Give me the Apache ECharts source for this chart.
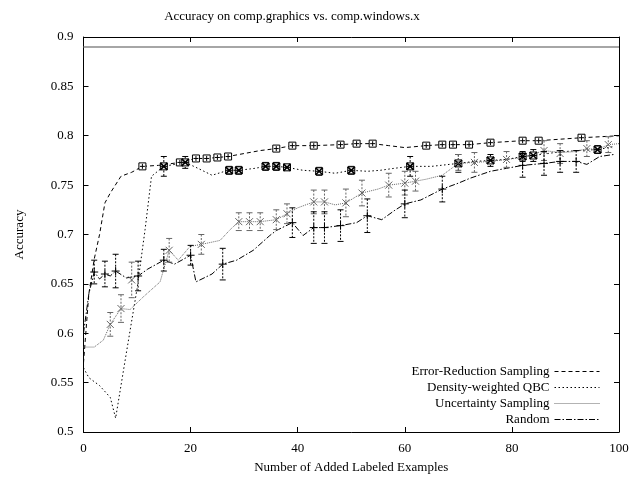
<!DOCTYPE html>
<html><head><meta charset="utf-8">
<script src="https://cdn.jsdelivr.net/npm/echarts@6/dist/echarts.min.js"></script>
<style>html,body{margin:0;padding:0;background:#fff}#c{width:639px;height:480px}</style>
</head><body><div id="c"></div>
<script>
// ---------- data ----------
const chartTitle = 'Accuracy on comp.graphics vs. comp.windows.x';
const xName = 'Number of Added Labeled Examples';
const yName = 'Accuracy';
const seriesNames = ['Error-Reduction Sampling', 'Density-weighted QBC', 'Uncertainty Sampling', 'Random'];
const ceilingAccuracy = 0.892;

const errRedLine = [[0,0.57],[1,0.64],[2,0.675],[3,0.70],[4,0.732],[5,0.742],[7,0.759],[9,0.763],[11,0.769],[14,0.770],[18,0.773],[21,0.777],[23,0.777],[25,0.778],[27,0.779],[30,0.782],[33,0.785],[36,0.787],[39,0.790],[43,0.790],[48,0.791],[51,0.792],[54,0.792],[57,0.790],[60,0.788],[64,0.790],[67,0.791],[69,0.791],[72,0.791],[76,0.793],[82,0.795],[85,0.795],[93,0.798],[100,0.800]];
const errRedPts = [[11,0.769,0],[18,0.773,0],[21,0.777,0],[23,0.777,0],[25,0.778,0],[27,0.779,0],[36,0.787,0],[39,0.790,0],[43,0.790,0],[48,0.791,0],[51,0.792,0],[54,0.792,0],[64,0.790,0],[67,0.791,0],[69,0.791,0],[72,0.791,0],[76,0.793,0],[82,0.795,0],[85,0.795,0],[93,0.798,0]];

const qbcLine = [[0,0.565],[1,0.555],[3,0.547],[5,0.535],[6,0.514],[8,0.58],[10,0.645],[11.5,0.705],[12.7,0.759],[15,0.769],[18,0.772],[19,0.773],[21,0.768],[24,0.760],[27,0.765],[29,0.765],[32,0.767],[34,0.769],[36,0.769],[38,0.768],[41,0.765],[44,0.764],[47,0.762],[50,0.765],[53,0.764],[55.4,0.765],[58,0.767],[61,0.769],[65,0.769],[70,0.772],[73,0.774],[76,0.775],[79,0.776],[82,0.779],[84,0.780],[88,0.783],[92,0.785],[96,0.786],[99,0.789]];
const qbcPts = [[15,0.769,0.010],[19,0.773,0.006],[27.2,0.765,0.004],[29,0.765,0.004],[34,0.769,0.004],[36,0.769,0.004],[38,0.768,0.003],[44,0.764,0.004],[50,0.765,0.004],[61,0.769,0.010],[70,0.772,0.009],[76,0.775,0.006],[82,0.779,0.005],[84,0.780,0.006],[96,0.786,0.004]];

const uncLine = [[0,0.586],[2,0.586],[3.7,0.593],[5,0.609],[7,0.625],[8.7,0.624],[11.2,0.637],[14.3,0.652],[16,0.684],[17.7,0.674],[19.9,0.688],[22,0.690],[25.5,0.694],[27.4,0.705],[29,0.713],[31,0.713],[33,0.713],[36,0.715],[38,0.721],[40,0.727],[43,0.733],[45,0.733],[47,0.730],[49,0.732],[52,0.742],[55,0.746],[57,0.750],[60,0.752],[62,0.754],[64,0.756],[67,0.760],[70,0.772],[73,0.773],[76,0.774],[79,0.776],[82,0.778],[86,0.785],[89,0.783],[92,0.784],[94,0.787],[96,0.786],[98,0.791],[100,0.792]];
const uncPts = [[5,0.609,0.012],[7,0.625,0.014],[9,0.654,0.018],[16,0.684,0.012],[22,0.690,0.010],[29,0.713,0.009],[31,0.713,0.009],[33,0.713,0.009],[36,0.715,0.010],[38,0.721,0.010],[43,0.733,0.012],[45,0.733,0.012],[49,0.732,0.014],[52,0.742,0.013],[57,0.750,0.012],[60,0.752,0.012],[62,0.754,0.010],[70,0.773,0.008],[73,0.773,0.010],[79,0.776,0.008],[86,0.785,0.010],[89,0.782,0.010],[94,0.787,0.008],[98,0.791,0.008]];

const randLine = [[0,0.60],[1,0.64],[2,0.662],[3,0.655],[4,0.660],[5,0.658],[6,0.663],[8,0.656],[10.2,0.658],[12,0.665],[15,0.674],[17,0.670],[20,0.679],[21,0.652],[24,0.660],[26,0.670],[28.6,0.674],[31.7,0.684],[34.8,0.699],[36,0.704],[39,0.712],[41,0.699],[43,0.707],[45,0.707],[48,0.709],[51,0.712],[53,0.719],[55.7,0.715],[58,0.724],[60,0.731],[63,0.735],[67,0.746],[70,0.752],[72.2,0.757],[76,0.764],[79,0.767],[82,0.770],[86,0.772],[89,0.774],[92,0.774],[94,0.771],[96.4,0.779],[99,0.781]];
const randPts = [[2,0.662,0.012],[4,0.660,0.013],[6,0.663,0.017],[10.2,0.658,0.015],[15,0.674,0.011],[20,0.679,0.010],[26,0.670,0.016],[39,0.712,0.015],[43,0.707,0.016],[45,0.707,0.016],[48,0.709,0.016],[53,0.719,0.017],[60,0.731,0.014],[67,0.746,0.013],[82,0.770,0.012],[86,0.772,0.012],[89,0.774,0.011],[92,0.774,0.011]];

// ---------- chart ----------
const FONT = '"Liberation Serif","DejaVu Serif",serif';
const chart = echarts.init(document.getElementById('c'), null, {renderer: 'canvas'});

const styles = [
  {color: '#000', dash: [4, 3], shape: 'box'},
  {color: '#000', dash: [1.5, 2.5], shape: 'boxx'},
  {color: '#666', dash: [1, 1], shape: 'x'},
  {color: '#000', dash: [6, 2, 1.5, 2], shape: 'plus'}
];

function markerSeries(name, data, st) {
  return {
    type: 'custom', name: name + ' points', data: data, z: 5, silent: true, clip: true,
    encode: {x: 0, y: 1},
    renderItem: function (params, api) {
      const x = api.value(0), y = api.value(1), e = api.value(2);
      const p = api.coord([x, y]);
      const ch = [];
      const ls = {stroke: st.color, lineWidth: 1, fill: null};
      if (e > 0) {
        const a = api.coord([x, y + e]), b = api.coord([x, y - e]);
        ch.push({type: 'line', shape: {x1: a[0], y1: a[1], x2: b[0], y2: b[1]}, style: {stroke: st.color, lineWidth: 1, lineDash: [2, 1.5]}});
        ch.push({type: 'line', shape: {x1: a[0] - 3, y1: a[1], x2: a[0] + 3, y2: a[1]}, style: ls});
        ch.push({type: 'line', shape: {x1: b[0] - 3, y1: b[1], x2: b[0] + 3, y2: b[1]}, style: ls});
      }
      const s = 3.5;
      if (st.shape === 'box' || st.shape === 'boxx') {
        ch.push({type: 'rect', shape: {x: p[0] - s, y: p[1] - s, width: 2 * s, height: 2 * s}, style: {stroke: st.color, lineWidth: 1, fill: '#fff'}});
      }
      if (st.shape === 'box' || st.shape === 'plus') {
        const r = st.shape === 'plus' ? 4 : 2.5;
        ch.push({type: 'line', shape: {x1: p[0] - r, y1: p[1], x2: p[0] + r, y2: p[1]}, style: ls});
        ch.push({type: 'line', shape: {x1: p[0], y1: p[1] - r, x2: p[0], y2: p[1] + r}, style: ls});
      }
      if (st.shape === 'x' || st.shape === 'boxx') {
        const r = 3.5;
        ch.push({type: 'line', shape: {x1: p[0] - r, y1: p[1] - r, x2: p[0] + r, y2: p[1] + r}, style: {stroke: st.color, lineWidth: st.shape === 'boxx' ? 1.6 : 1}});
        ch.push({type: 'line', shape: {x1: p[0] - r, y1: p[1] + r, x2: p[0] + r, y2: p[1] - r}, style: {stroke: st.color, lineWidth: st.shape === 'boxx' ? 1.6 : 1}});
      }
      if (st.shape === 'boxx') {
        ch.push({type: 'line', shape: {x1: p[0] - s, y1: p[1], x2: p[0] + s, y2: p[1]}, style: ls});
      }
      return {type: 'group', children: ch};
    }
  };
}

function lineSeries(name, data, st, extra) {
  return Object.assign({
    type: 'line', name: name, data: data, symbol: 'none', showSymbol: false, z: 3,
    lineStyle: {color: st.color, width: 1, type: st.dash},
    itemStyle: {color: st.color}
  }, extra || {});
}

const lines = [errRedLine, qbcLine, uncLine, randLine];
const pts = [errRedPts, qbcPts, uncPts, randPts];
const series = [];
seriesNames.forEach(function (n, i) {
  series.push(lineSeries(n, lines[i], styles[i], i === 0 ? {
    markLine: {symbol: 'none', silent: true, label: {show: false}, animation: false,
      lineStyle: {color: '#888', type: 'solid', width: 1.5}, data: [{yAxis: ceilingAccuracy}]}
  } : null));
});
seriesNames.forEach(function (n, i) { series.push(markerSeries(n, pts[i], styles[i])); });

const axisCommon = {
  axisLine: {show: true, onZero: false, lineStyle: {color: '#000', width: 1}},
  axisTick: {show: true, inside: true, length: 5, lineStyle: {color: '#000'}},
  splitLine: {show: false}
};

const option = {
  animation: false,
  backgroundColor: '#fff',
  title: {text: chartTitle, left: 287, top: 5, textAlign: 'center',
    textStyle: {fontFamily: FONT, fontSize: 13, fontWeight: 'normal', color: '#000'}},
  grid: {left: 83.5, right: 20, top: 37, bottom: 48, containLabel: false},
  legend: seriesNames.map(function (n, i) {
    return {data: [n], orient: 'vertical', right: 39, top: 365 + i * 16, align: 'right',
      itemWidth: 45, itemHeight: 10, itemGap: 0, padding: 0, selectedMode: false,
      itemStyle: {opacity: 0},
      lineStyle: {width: 1},
      textStyle: {fontFamily: FONT, fontSize: 13, color: '#000'}};
  }),
  xAxis: [
    Object.assign({type: 'value', min: 0, max: 100, interval: 20, position: 'bottom',
      name: xName, nameLocation: 'middle', nameGap: 29,
      nameTextStyle: {fontFamily: FONT, fontSize: 13, color: '#000'},
      axisLabel: {fontFamily: FONT, fontSize: 13, color: '#000', margin: 10}}, axisCommon),
    Object.assign({type: 'value', min: 0, max: 100, interval: 20, position: 'top',
      axisLabel: {show: false}}, axisCommon)
  ],
  yAxis: [
    Object.assign({type: 'value', min: 0.5, max: 0.9, interval: 0.05, position: 'left',
      name: yName, nameLocation: 'middle', nameGap: 57, nameRotate: 90,
      nameTextStyle: {fontFamily: FONT, fontSize: 13, color: '#000'},
      axisLabel: {fontFamily: FONT, fontSize: 13, color: '#000', margin: 10,
        formatter: function (v) { return String(parseFloat(v.toFixed(2))); }}}, axisCommon),
    Object.assign({type: 'value', min: 0.5, max: 0.9, interval: 0.05, position: 'right',
      axisLabel: {show: false}}, axisCommon)
  ],
  series: series
};
chart.setOption(option);
</script></body></html>
